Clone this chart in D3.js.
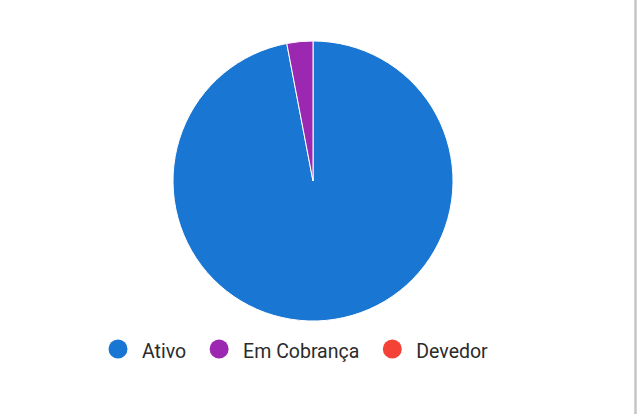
<!DOCTYPE html>
<html>
<head>
<meta charset="utf-8">
<script src="https://cdn.jsdelivr.net/npm/d3@7"></script>
<style>
  body { margin: 0; background: #fff; }
  svg { display: block; }
</style>
</head>
<body>
<svg id="chart" width="638" height="414"></svg>
<script>
// chart data
const categories = ['Ativo', 'Em Cobrança', 'Devedor'];
const values = [97, 3, 0];
const colors = ['#1976D2', '#9C27B0', '#F44336'];

const width = 638, height = 414;
const svg = d3.select('#chart');

// right edge shadow line
svg.append('rect')
    .attr('x', 634).attr('y', 0)
    .attr('width', 3).attr('height', height)
    .attr('fill', '#d4d4d4');
svg.append('rect')
    .attr('x', 635).attr('y', 0)
    .attr('width', 1).attr('height', height)
    .attr('fill', '#c4c4c4');

const cx = 313, cy = 181, radius = 140;

const pie = d3.pie().sort(null).value(d => d.value);
const arc = d3.arc().innerRadius(0).outerRadius(radius);

const data = categories.map((c, i) => ({name: c, value: values[i], color: colors[i]}));

const g = svg.append('g').attr('transform', `translate(${cx},${cy})`);
g.selectAll('path')
    .data(pie(data).filter(d => d.data.value > 0))
    .enter()
    .append('path')
    .attr('d', arc)
    .attr('fill', d => d.data.color)
    .attr('stroke', '#fff')
    .attr('stroke-width', 1);

// legend
const legend = svg.append('g').attr('class', 'legend');
let xPos = 118;
const legY = 349;
data.forEach(d => {
    legend.append('circle')
        .attr('cx', xPos)
        .attr('cy', legY)
        .attr('r', 9.5)
        .attr('fill', d.color);
    const t = legend.append('text')
        .attr('x', xPos + 24)
        .attr('y', legY + 9)
        .attr('font-family', 'Roboto, sans-serif')
        .attr('font-size', 19.5)
        .attr('fill', '#2b2b2b')
        .text(d.name);
    const w = t.node().getComputedTextLength();
    xPos = xPos + 24 + w + 33;
});
</script>
</body>
</html>
